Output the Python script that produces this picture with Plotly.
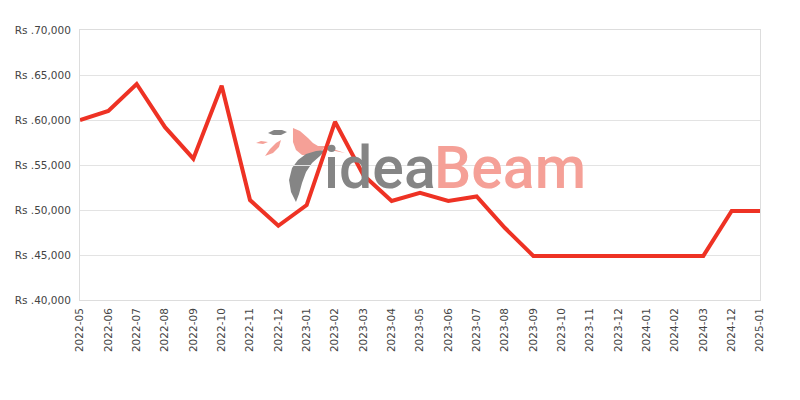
import plotly.graph_objects as go

months = ["2022-05","2022-06","2022-07","2022-08","2022-09","2022-10","2022-11","2022-12",
          "2023-01","2023-02","2023-03","2023-04","2023-05","2023-06","2023-07","2023-08",
          "2023-09","2023-10","2023-11","2023-12","2024-01","2024-02","2024-03","2024-12","2025-01"]
prices = [60000, 61000, 64000, 59200, 55700, 63800, 51100, 48250,
          50550, 59800, 53900, 51000, 51900, 51000, 51500, 48000,
          44900, 44900, 44900, 44900, 44900, 44900, 44900, 49900, 49900]

fig = go.Figure()
fig.add_trace(go.Scatter(x=months, y=prices, mode="lines",
                         line=dict(color="#EE3224", width=4), hoverinfo="x+y"))

# watermark logo (decorative), pixel coords of reference image -> paper coords
def P(px, py):
    return (px - 80) / 680.0, (300 - py) / 270.0

def path(pts, close=True):
    s = ""
    for i, (a, b) in enumerate(pts):
        x, y = P(a, b)
        s += ("M" if i == 0 else "L") + f"{x:.4f},{y:.4f} "
    return s + ("Z" if close else "")

logo_shapes = [
    (path([(293,128),(300,131),(308,138),(313,143),(318,146),(326,146),(320,152),(312,156),(302,155),(296,150),(293,142)]), "#F5A097"),
    (path([(268,133),(274,130),(282,130),(287,132),(281,135),(273,135)]), "#858585"),
    (path([(256,143),(261,141),(268,142),(263,144)]), "#F5A097"),
    (path([(265,156),(270,149),(276,143),(281,140),(279,147),(273,153)]), "#F5A097"),
    (path([(296,202),(291,192),(289,180),(292,168),(298,160),(306,154),(316,151),(326,150),(320,156),(312,163),(306,172),(302,183),(299,194)]), "#858585"),
    (path([(318,150),(330,148),(345,153),(330,150)]), "#F5A097"),
]
for d, c in logo_shapes:
    fig.add_shape(type="path", path=d, xref="paper", yref="paper",
                  fillcolor=c, line=dict(width=0), layer="below")

for txt, px, col in [("idea", 322, "#858585"), ("Beam", 432, "#F5A097")]:
    fig.add_annotation(xref="paper", yref="paper", x=(px - 80) / 680, y=(300 - 190) / 270,
                       xanchor="left", yanchor="bottom", yshift=-14,
                       text=txt, showarrow=False,
                       font=dict(family="Roboto", size=59, color=col, weight=500))

fig.update_layout(
    width=800, height=400,
    margin=dict(l=72, r=48, t=22, b=108),
    paper_bgcolor="white", plot_bgcolor="white",
    showlegend=False,
    font=dict(family="DejaVu Sans", size=10.5, color="#444"),
    xaxis=dict(type="category", tickangle=-90, showgrid=False, showline=True,
               linecolor="#dddddd", mirror=True, ticks="", range=[0, 24], automargin=False,
               ticklabelstandoff=3, tickfont=dict(size=10.5, color="#444")),
    yaxis=dict(range=[40000, 70000], dtick=5000, tickprefix="Rs .", tickformat=",",
               showgrid=True, gridcolor="#e3e3e3", showline=True, linecolor="#dddddd",
               mirror=True, zeroline=False, ticks="", ticklabelstandoff=6, automargin=False,
               tickfont=dict(size=10.5, color="#444")),
)
fig.write_html("out.html")
